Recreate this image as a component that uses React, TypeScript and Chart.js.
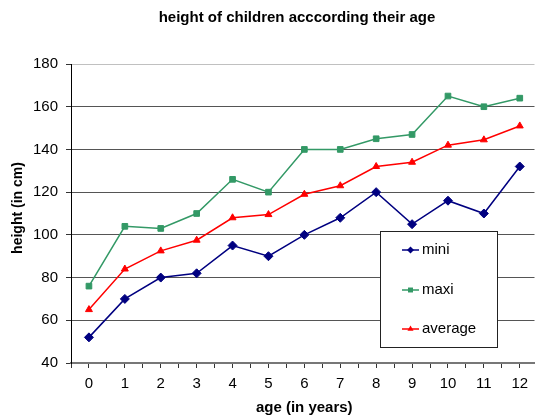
import React, { useEffect, useRef } from "react";
import { Chart, registerables } from "chart.js";

Chart.register(...registerables);

const title = "height of children acccording their age";
const xTitle = "age (in years)";
const yTitle = "height (in cm)";
const ages = [0, 1, 2, 3, 4, 5, 6, 7, 8, 9, 10, 11, 12];
const mini = [52, 70, 80, 82, 95, 90, 100, 108, 120, 105, 116, 110, 132];
const maxi = [76, 104, 103, 110, 126, 120, 140, 140, 145, 147, 165, 160, 164];
const average = [65, 84, 92.5, 97.5, 108, 109.5, 119, 123, 132, 134, 142, 144.5, 151];
const seriesNames = ["mini", "maxi", "average"];
const seriesColors = ["#000080", "#339966", "#FF0000"];
const seriesStyles = ["rectRot", "rect", "triangle"];

const FONT = "'Liberation Sans', Arial, sans-serif";

function drawMarker(ctx: CanvasRenderingContext2D, style: string, x: number, y: number, r: number) {
  ctx.beginPath();
  if (style === "rectRot") {
    ctx.moveTo(x, y - r);
    ctx.lineTo(x + r, y);
    ctx.lineTo(x, y + r);
    ctx.lineTo(x - r, y);
  } else if (style === "rect") {
    const s = r * Math.SQRT1_2;
    ctx.rect(x - s, y - s, 2 * s, 2 * s);
  } else {
    ctx.moveTo(x, y - r);
    ctx.lineTo(x + r * 0.87, y + r * 0.5);
    ctx.lineTo(x - r * 0.87, y + r * 0.5);
  }
  ctx.closePath();
  ctx.fill();
}

const decorPlugin = {
  id: "decor",
  afterDraw(chart: any) {
    const ctx: CanvasRenderingContext2D = chart.ctx;
    const area = chart.chartArea;
    ctx.save();
    ctx.fillStyle = "#000";
    ctx.font = `bold 15px ${FONT}`;
    ctx.textAlign = "center";
    ctx.textBaseline = "middle";
    ctx.fillText(title, 297, 18);
    ctx.fillText(xTitle, (area.left + area.right + 3) / 2, 408);
    ctx.save();
    ctx.translate(18, 208);
    ctx.rotate(-Math.PI / 2);
    ctx.font = `bold 14px ${FONT}`;
    ctx.fillText(yTitle, 0, 0);
    ctx.restore();
    const lx = 380, ly = 231, lw = 117, lh = 116;
    ctx.fillStyle = "#fff";
    ctx.fillRect(lx, ly, lw, lh);
    ctx.strokeStyle = "#222";
    ctx.lineWidth = 1;
    ctx.strokeRect(lx + 0.5, ly + 0.5, lw, lh);
    const ys = [250, 290, 329];
    ctx.font = `15px ${FONT}`;
    ctx.textAlign = "left";
    for (let i = 0; i < 3; i++) {
      const y = ys[i];
      ctx.strokeStyle = seriesColors[i];
      ctx.lineWidth = 1.5;
      ctx.beginPath();
      ctx.moveTo(402, y);
      ctx.lineTo(419, y);
      ctx.stroke();
      ctx.fillStyle = seriesColors[i];
      drawMarker(ctx, seriesStyles[i], 410.5, y, 3.5);
      ctx.fillStyle = "#000";
      ctx.fillText(seriesNames[i], 422, y);
    }
    ctx.restore();
  },
};

export default function App() {
  const ref = useRef<HTMLCanvasElement>(null);
  useEffect(() => {
    document.body.style.margin = "0";
    const seriesData = [mini, maxi, average];
    const chart = new Chart(ref.current!, {
      type: "line",
      data: {
        datasets: seriesData.map((vals, i) => ({
          label: seriesNames[i],
          data: ages.map((a, j) => ({ x: a, y: vals[j] })),
          borderColor: seriesColors[i],
          backgroundColor: seriesColors[i],
          borderWidth: 1.5,
          pointStyle: seriesStyles[i] as any,
          pointRadius: i === 0 ? 4.5 : 4,
          pointBorderWidth: 1,
          tension: 0,
        })),
      },
      options: {
        animation: false,
        responsive: false,
        devicePixelRatio: 1,
        layout: { padding: { top: 64, left: 0, right: 0, bottom: 0 } },
        plugins: { legend: { display: false }, title: { display: false }, tooltip: { enabled: false } },
        scales: {
          x: {
            type: "linear",
            min: -0.5,
            max: 12.41,
            afterBuildTicks: (scale: any) => {
              const t = [];
              for (let v = -0.5; v <= 12; v += 0.5) t.push({ value: v });
              scale.ticks = t;
            },
            afterFit: (scale: any) => {
              scale.height = 56;
            },
            ticks: {
              autoSkip: false,
              maxRotation: 0,
              padding: 7,
              color: "#000",
              font: { family: FONT, size: 15 },
              callback: (v: any) => (Number.isInteger(v) && ages.includes(v) ? String(v) : ""),
            },
            grid: { drawOnChartArea: false, drawTicks: true, tickLength: 5, color: "#333", tickColor: "#333" },
            border: { color: "#777", width: 2 },
          },
          y: {
            min: 40,
            max: 180,
            ticks: { stepSize: 20, padding: 8, color: "#000", font: { family: FONT, size: 15 } },
            afterFit: (scale: any) => {
              scale.width = 71;
            },
            grid: {
              color: (c: any) =>
                c.tick && c.tick.value === 180 ? "#c0c0c0" : c.tick && c.tick.value === 40 ? "rgba(0,0,0,0)" : "#555",
              tickColor: "#333",
              tickLength: 5,
              lineWidth: 1,
            },
            border: { color: "#000", width: 1 },
          },
        },
      },
      plugins: [decorPlugin],
    });
    return () => chart.destroy();
  }, []);
  return (
    <div style={{ width: 540, height: 419, position: "absolute", left: 0, top: 0, background: "#fff" }}>
      <canvas ref={ref} width={540} height={419} />
    </div>
  );
}
